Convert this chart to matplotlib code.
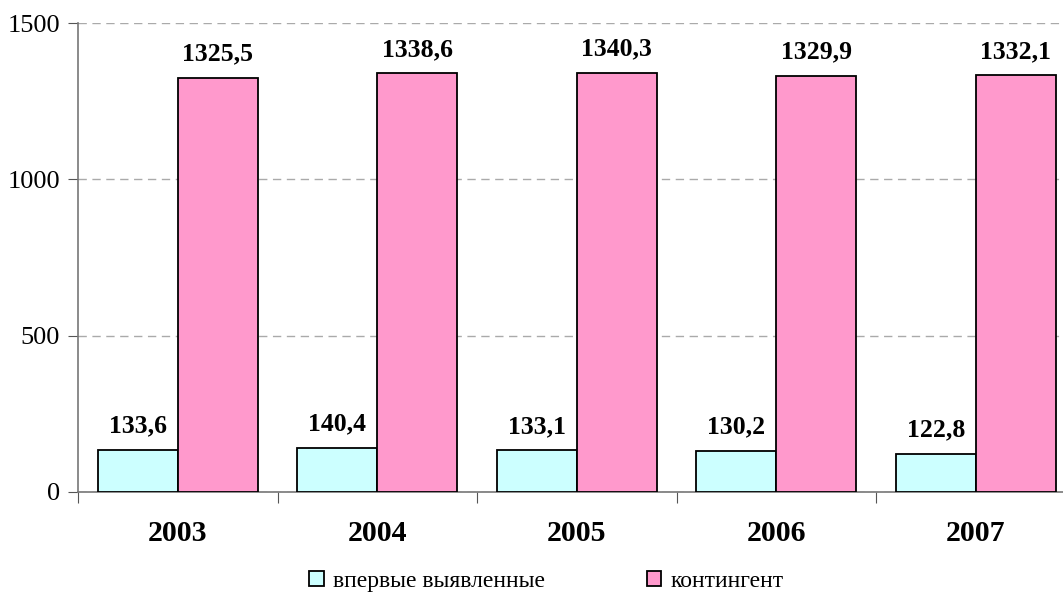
import matplotlib
matplotlib.use("Agg")
import matplotlib.pyplot as plt
import numpy as np

years = ["2003", "2004", "2005", "2006", "2007"]
new_cases = [133.6, 140.4, 133.1, 130.2, 122.8]
contingent = [1325.5, 1338.6, 1340.3, 1329.9, 1332.1]
series_names = ["впервые выявленные", "контингент"]
yticks = [0, 500, 1000, 1500]

plt.rcParams['font.family'] = ['Liberation Serif', 'DejaVu Serif']

fig = plt.figure(figsize=(10.63, 5.93), dpi=100)
ax = fig.add_axes([78/1063, 101/593, 997.5/1063, 469/593])

x = np.arange(len(years))
w = 0.4
b1 = ax.bar(x - w/2, new_cases, w, color="#CCFFFF", edgecolor="black", linewidth=1.3,
            label=series_names[0], zorder=3)
b2 = ax.bar(x + w/2, contingent, w, color="#FF99CC", edgecolor="black", linewidth=1.3,
            label=series_names[1], zorder=3)

def fmt(v):
    return f"{v:.1f}".replace(".", ",")

for xi, v in zip(x - w/2, new_cases):
    ax.annotate(fmt(v), (xi, v), xytext=(0, 9), textcoords="offset points",
                ha="center", va="bottom", fontsize=18.5, fontweight="bold")
for xi, v in zip(x + w/2, contingent):
    ax.annotate(fmt(v), (xi, v), xytext=(0, 9), textcoords="offset points",
                ha="center", va="bottom", fontsize=18.5, fontweight="bold")

ax.set_xlim(-0.5, len(years) - 0.5)
ax.set_ylim(0, 1500)
ax.set_yticks(yticks)
ax.set_yticklabels([str(t) for t in yticks], fontsize=19)
ax.yaxis.grid(True, linestyle=(0, (6, 4)), color="#AAAAAA", linewidth=1)
ax.set_axisbelow(True)

ax.set_xticks(np.arange(len(years) + 1) - 0.5)
ax.set_xticklabels([])
ax.set_xticks(x, minor=True)
ax.set_xticklabels(years, minor=True, fontsize=21.5, fontweight="bold")
ax.tick_params(axis="x", which="minor", length=0, pad=20)
ax.tick_params(axis="x", which="major", length=8, color="#555555", direction="out")
ax.tick_params(axis="y", length=7, color="#555555", direction="out", pad=6)

for s in ["top", "right"]:
    ax.spines[s].set_visible(False)
for s in ["left", "bottom"]:
    ax.spines[s].set_color("#777777")
    ax.spines[s].set_linewidth(1.2)

leg = fig.legend(handles=[b1, b2], labels=series_names, loc="center",
                 bbox_to_anchor=(0.514, 0.02), ncol=2, frameon=False,
                 fontsize=17, handlelength=0.6, handleheight=0.6,
                 handletextpad=0.4, columnspacing=4.3)

fig.savefig("out.png", dpi=100)
